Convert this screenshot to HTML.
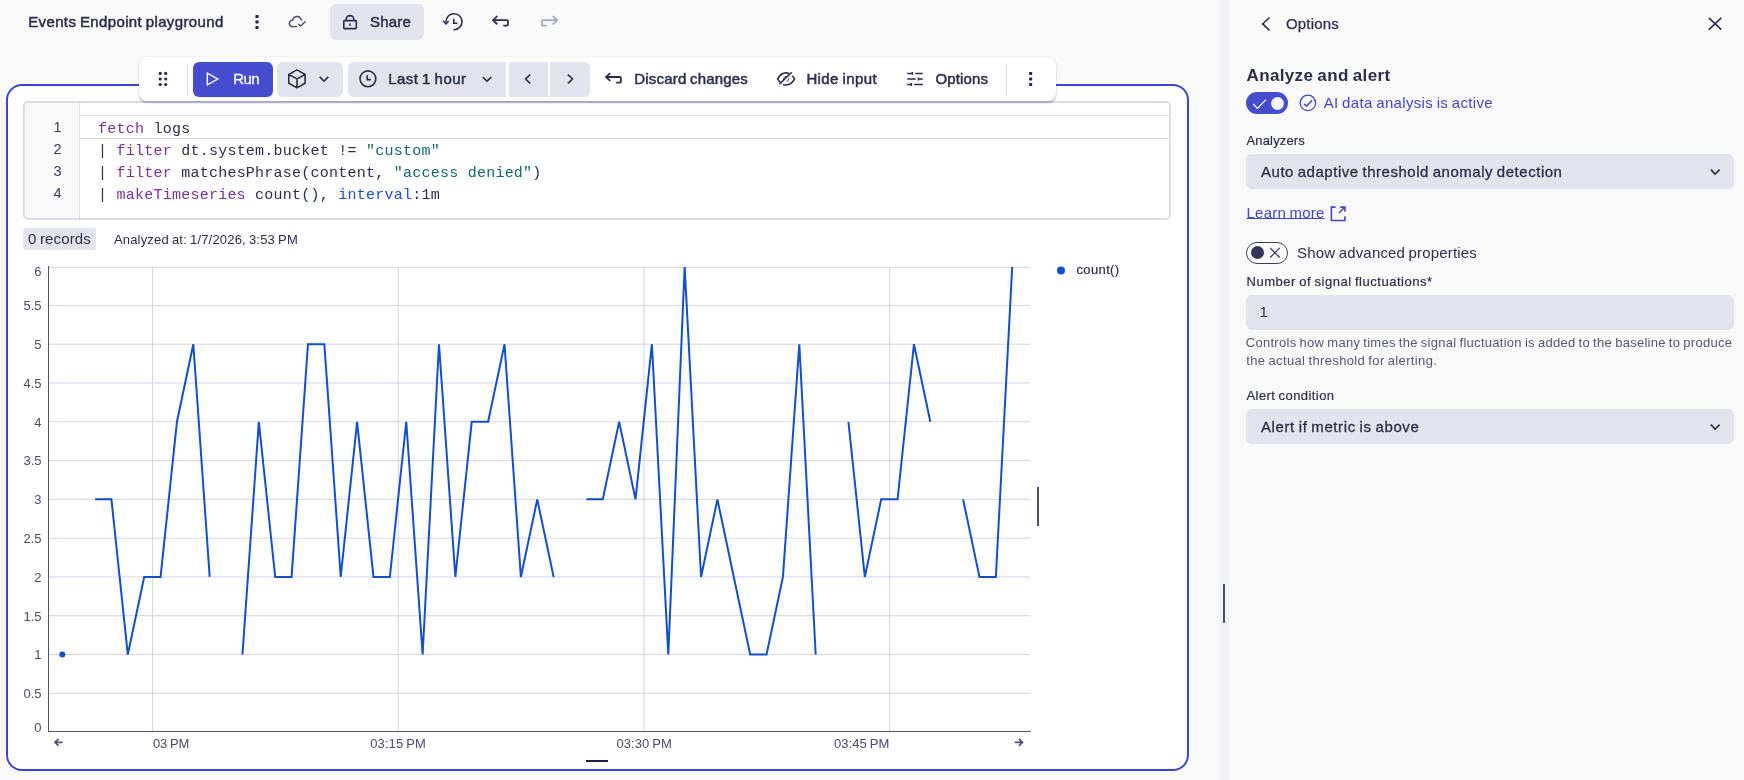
<!DOCTYPE html>
<html><head><meta charset="utf-8"><title>Events Endpoint playground</title>
<style>
html,body{margin:0;padding:0;}
body{width:1744px;height:780px;overflow:hidden;background:#f9f9fa;font-family:"Liberation Sans",sans-serif;}
#root{position:relative;width:1744px;height:780px;overflow:hidden;will-change:transform;}
.abs{position:absolute;}
.t{position:absolute;white-space:nowrap;line-height:1.5;word-spacing:-0.06em;font-family:"Liberation Sans",sans-serif;}
#splitter{left:1220px;top:0;width:9px;height:780px;background:#f3f3f7;}
#cell{left:6px;top:84px;width:1179px;height:683px;border:2px solid #3c44d2;border-radius:16px;background:#fff;}
#editor{left:23px;top:101px;width:1147.5px;height:118.5px;border:2px solid #dbdce7;border-radius:5px;background:#fff;box-sizing:border-box;overflow:hidden;}
#gutter{position:absolute;left:0;top:0;width:54px;height:117px;background:#f9f9fa;border-right:1px solid #dbdce7;}
#active{position:absolute;left:55px;top:12px;right:0;height:21.5px;border-top:1px solid #dbdce7;border-bottom:1px solid #dbdce7;}
.code{position:absolute;left:98px;height:22px;line-height:22px;font-family:"Liberation Mono",monospace;font-size:15px;letter-spacing:0.24px;white-space:pre;}
.ln{position:absolute;left:30.5px;width:31px;text-align:right;height:22px;line-height:22px;font-family:"Liberation Sans",sans-serif;font-size:14.5px;color:#3a3c5a;}
#chip{left:23px;top:228px;width:73px;height:21.5px;border-radius:3px;background:#e3e4ee;}
#toolbar{left:139px;top:56.5px;width:917px;height:44.5px;border-radius:8px;background:#fff;box-shadow:0 1.5px 2px rgba(40,42,80,0.30),0 0 2px rgba(40,42,80,0.06);}
.btn{position:absolute;background:#e3e4ee;border-radius:6px;}
.ico{position:absolute;overflow:visible;}

</style></head>
<body>
<div id="root">
<div class="abs" id="splitter"></div>
<div class="abs" id="cell"></div>
<div class="abs" id="editor"><div id="gutter"></div><div id="active"></div></div>
<div class="code" style="top:118.8px"><span style="color:#7b2f9c">fetch</span><span style="color:#2c2e4c"> logs</span></div><div class="code" style="top:140.8px"><span style="color:#2c2e4c">| </span><span style="color:#7b2f9c">filter</span><span style="color:#2c2e4c"> dt.system.bucket != </span><span style="color:#15686b">&quot;custom&quot;</span></div><div class="code" style="top:162.8px"><span style="color:#2c2e4c">| </span><span style="color:#7b2f9c">filter</span><span style="color:#2c2e4c"> matchesPhrase(content, </span><span style="color:#15686b">&quot;access denied&quot;</span><span style="color:#2c2e4c">)</span></div><div class="code" style="top:184.8px"><span style="color:#2c2e4c">| </span><span style="color:#7b2f9c">makeTimeseries</span><span style="color:#2c2e4c"> count(), </span><span style="color:#1c4fc4">interval</span><span style="color:#2c2e4c">:1m</span></div><div class="ln" style="top:115.7px">1</div><div class="ln" style="top:137.7px">2</div><div class="ln" style="top:159.7px">3</div><div class="ln" style="top:181.7px">4</div>
<div class="abs" id="chip"></div>
<svg class="abs" style="left:0;top:0" width="1220" height="780" viewBox="0 0 1220 780"><defs><clipPath id="pc"><rect x="48" y="266.9" width="990" height="470"/></clipPath></defs><line x1="49" x2="1030" y1="693.31" y2="693.31" stroke="#d3d5e3" stroke-width="1"/><line x1="49" x2="1030" y1="654.52" y2="654.52" stroke="#d3d5e3" stroke-width="1"/><line x1="49" x2="1030" y1="615.73" y2="615.73" stroke="#d3d5e3" stroke-width="1"/><line x1="49" x2="1030" y1="576.94" y2="576.94" stroke="#d3d5e3" stroke-width="1"/><line x1="49" x2="1030" y1="538.15" y2="538.15" stroke="#d3d5e3" stroke-width="1"/><line x1="49" x2="1030" y1="499.36" y2="499.36" stroke="#d3d5e3" stroke-width="1"/><line x1="49" x2="1030" y1="460.57" y2="460.57" stroke="#d3d5e3" stroke-width="1"/><line x1="49" x2="1030" y1="421.78" y2="421.78" stroke="#d3d5e3" stroke-width="1"/><line x1="49" x2="1030" y1="382.99" y2="382.99" stroke="#d3d5e3" stroke-width="1"/><line x1="49" x2="1030" y1="344.20" y2="344.20" stroke="#d3d5e3" stroke-width="1"/><line x1="49" x2="1030" y1="305.41" y2="305.41" stroke="#d3d5e3" stroke-width="1"/><line x1="49" x2="1030" y1="267.40" y2="267.40" stroke="#d3d5e3" stroke-width="1"/><line x1="152.60" x2="152.60" y1="267" y2="731" stroke="#d3d5e3" stroke-width="1"/><line x1="398.30" x2="398.30" y1="267" y2="731" stroke="#d3d5e3" stroke-width="1"/><line x1="644.00" x2="644.00" y1="267" y2="731" stroke="#d3d5e3" stroke-width="1"/><line x1="889.60" x2="889.60" y1="267" y2="731" stroke="#d3d5e3" stroke-width="1"/><line x1="48.5" x2="48.5" y1="266" y2="732" stroke="#51536f" stroke-width="1"/><line x1="48" x2="1030.8" y1="731.5" y2="731.5" stroke="#51536f" stroke-width="1"/><circle cx="62.30" cy="654.52" r="3" fill="#134fc9"/><polyline clip-path="url(#pc)" fill="none" stroke="#134fc9" stroke-width="2" stroke-linejoin="miter" points="95.06,499.36 111.43,499.36 127.81,654.52 144.19,576.94 160.57,576.94 176.95,421.78 193.32,344.20 209.70,576.94"/><polyline clip-path="url(#pc)" fill="none" stroke="#134fc9" stroke-width="2" stroke-linejoin="miter" points="242.46,654.52 258.84,421.78 275.21,576.94 291.59,576.94 307.97,344.20 324.35,344.20 340.73,576.94 357.10,421.78 373.48,576.94 389.86,576.94 406.24,421.78 422.62,654.52 438.99,344.20 455.37,576.94 471.75,421.78 488.13,421.78 504.51,344.20 520.88,576.94 537.26,499.36 553.64,576.94"/><polyline clip-path="url(#pc)" fill="none" stroke="#134fc9" stroke-width="2" stroke-linejoin="miter" points="586.40,499.36 602.77,499.36 619.15,421.78 635.53,499.36 651.91,344.20 668.29,654.52 684.66,266.62 701.04,576.94 717.42,499.36 733.80,576.94 750.18,654.52 766.55,654.52 782.93,576.94 799.31,344.20 815.69,654.52"/><polyline clip-path="url(#pc)" fill="none" stroke="#134fc9" stroke-width="2" stroke-linejoin="miter" points="848.44,421.78 864.82,576.94 881.20,499.36 897.58,499.36 913.96,344.20 930.33,421.78"/><polyline clip-path="url(#pc)" fill="none" stroke="#134fc9" stroke-width="2" stroke-linejoin="miter" points="963.09,499.36 979.47,576.94 995.85,576.94 1012.22,266.62"/><circle cx="1061" cy="270.5" r="4" fill="#134fc9"/><rect x="1037" y="487" width="2" height="39" fill="#4a4c70"/><rect x="586" y="760" width="22" height="2" fill="#1f2044"/><path d="M62.5 742.3H55.2M58.6 738.8L55 742.3L58.6 745.8" fill="none" stroke="#51536f" stroke-width="1.7"/><path d="M1014.8 742.3H1022.3M1018.9 738.8L1022.5 742.3L1018.9 745.8" fill="none" stroke="#51536f" stroke-width="1.7"/></svg>
<div class="abs" id="toolbar"></div>
<div class="btn" style="left:330px;top:4px;width:94px;height:36px;"></div>
<div class="btn" style="left:193px;top:62px;width:80px;height:35px;background:#464cd0;"></div>
<div class="btn" style="left:277px;top:62px;width:66px;height:35px;"></div>
<div class="btn" style="left:348.2px;top:62px;width:157.7px;height:35px;border-radius:6px 0 0 6px;"></div>
<div class="btn" style="left:509px;top:62px;width:38.9px;height:35px;border-radius:0;"></div>
<div class="btn" style="left:550px;top:62px;width:40px;height:35px;border-radius:0 6px 6px 0;"></div>
<div class="abs" style="left:187px;top:64px;width:1px;height:30.5px;background:#d5d7e4;"></div>
<div class="abs" style="left:1005.5px;top:64px;width:1px;height:30.5px;background:#d5d7e4;"></div>
<div class="btn" style="left:1246px;top:154px;width:488px;height:35px;"></div>
<div class="btn" style="left:1246px;top:295px;width:488px;height:35px;"></div>
<div class="btn" style="left:1246px;top:409px;width:488px;height:35px;"></div>
<div class="abs" style="left:1246px;top:92px;width:42px;height:22px;border-radius:11px;background:#464cd0;"></div>
<div class="abs" style="left:1270.6px;top:96.7px;width:13.4px;height:13.4px;border-radius:50%;background:#f4f4f9;"></div>
<div class="abs" style="left:1246px;top:242px;width:42px;height:21.5px;border-radius:11px;background:#fdfdfe;border:1px solid #3b3d5c;box-sizing:border-box;"></div>
<div class="abs" style="left:1251.1px;top:246.1px;width:13px;height:13px;border-radius:50%;background:#35365a;"></div>
<div class="abs" style="left:1223px;top:584px;width:2px;height:39px;background:#4a4c70;"></div>
<svg class="abs" style="left:0;top:0" width="1744" height="780" viewBox="0 0 1744 780" fill="none" stroke="#2c2e4c" stroke-width="1.6">
<!-- header kebab -->
<g fill="#23244a" stroke="none"><rect x="255.4" y="14.9" width="3.2" height="3.2" rx="0.8"/><rect x="255.4" y="20.4" width="3.2" height="3.2" rx="0.8"/><rect x="255.4" y="25.9" width="3.2" height="3.2" rx="0.8"/></g>
<!-- cloud check -->
<path d="M297 26.6H291.6A3.35 3.35 0 0 1 292.7 20.1A4.3 4.3 0 0 1 301 19.4L302.3 20.2" stroke="#484a6c" stroke-width="1.4"/>
<path d="M298.4 23.9L300.6 26.1L305.6 21.2" stroke="#484a6c" stroke-width="1.4"/>
<!-- lock -->
<rect x="343.8" y="20.6" width="12.5" height="8" rx="0.6"/>
<path d="M346.2 20.6V19.2A3.8 3.6 0 0 1 353.8 19.2V20.6"/>
<path d="M350 23.4V25.8" stroke-width="1.6"/>
<!-- history -->
<path d="M446 21.7A8 8 0 1 1 453.4 29.7"/>
<path d="M443.1 20.8L446 23.8L448.6 21.1"/>
<path d="M453.8 18.8V23.3H457.4" stroke-width="1.6"/>
<!-- undo / redo -->
<path d="M497.3 16.1L493 20.2L497.3 24.3M493.2 20.2H507A0.9 0.9 0 0 1 507.9 21.1V24.8A0.9 0.9 0 0 1 507 25.7H503.3" stroke-width="1.8"/>
<path d="M552.8 16.1L557.1 20.2L552.8 24.3M556.9 20.2H542.9A0.9 0.9 0 0 0 542 21.1V24.8A0.9 0.9 0 0 0 542.9 25.7H546.8" stroke="#a5a6c0" stroke-width="1.8"/>
<!-- drag handle -->
<g fill="#23244a" stroke="none"><circle cx="160.2" cy="73.4" r="1.6"/><circle cx="165.7" cy="73.4" r="1.6"/><circle cx="160.2" cy="79" r="1.6"/><circle cx="165.7" cy="79" r="1.6"/><circle cx="160.2" cy="84.5" r="1.6"/><circle cx="165.7" cy="84.5" r="1.6"/></g>
<!-- play -->
<path d="M207.3 73.2V84.9L217.7 79Z" stroke="#fff" stroke-width="1.4" stroke-linejoin="miter"/>
<!-- cube -->
<path d="M297 69.9L305.1 74.5V83.3L297 87.9L288.8 83.3V74.5ZM288.8 74.5L297 78.9L305.1 74.5M297 78.9V87.9" stroke-linejoin="round"/>
<path d="M319.7 76.9L324 81.1L328.3 76.9" stroke-width="1.6"/>
<!-- clock -->
<circle cx="367.9" cy="78.8" r="7.9"/>
<path d="M367.2 75.2V79.6H370.8" stroke-width="1.6"/>
<path d="M482.9 77.1L487 81.2L491.3 77.1" stroke-width="1.6"/>
<path d="M530.2 74.6L525.6 79L530.2 83.3" stroke-width="1.6"/>
<path d="M567.9 74.6L572.5 79L567.9 83.3" stroke-width="1.6"/>
<!-- discard -->
<path d="M610.2 73.2L606 77L610.2 80.9M606.2 77H620A0.9 0.9 0 0 1 620.9 77.9V81.7A0.9 0.9 0 0 1 620 82.6H616.2" stroke-width="1.8"/>
<!-- eye slash -->
<path d="M780.4 82.4C779.2 81.4 778.3 80.2 777.6 78.9C779.6 75.2 782.6 72.9 786 72.9C787.2 72.9 788.3 73.2 789.4 73.7M791.9 75.8C793 76.7 793.9 77.7 794.6 78.9C792.6 82.7 789.6 85 786 85C784.9 85 783.9 84.8 782.9 84.4"/>
<path d="M779.4 84.3L791.7 72.2" stroke-width="1.6"/><path d="M783.6 80A2.8 2.8 0 0 1 787 76.5M788.6 78.6A2.8 2.8 0 0 1 786.6 81.5" stroke-width="1"/>
<!-- sliders -->
<path d="M907.2 73.5H912.3M912.4 72.1V74.9M915.2 73.5H922.8M907.2 79H915.8M918.4 77.4V80.6M918.5 79H922.8M907.2 84.5H911.3M911.4 83.1V85.9M914.2 84.5H922.8" stroke-width="1.5"/>
<!-- toolbar kebab -->
<g fill="#23244a" stroke="none"><rect x="1029.1" y="72" width="3.1" height="3.1" rx="0.8"/><rect x="1029.1" y="77.5" width="3.1" height="3.1" rx="0.8"/><rect x="1029.1" y="83" width="3.1" height="3.1" rx="0.8"/></g>
<!-- panel -->
<path d="M1269.5 17.5L1262.7 23.9L1269.5 30.4"/>
<path d="M1708.8 17.9L1721.3 29.6M1721.3 17.9L1708.8 29.6" stroke-width="1.6"/>
<path d="M1253.2 104L1257.5 108.4L1266.1 99.6" stroke="#fff" stroke-width="1.3"/>
<circle cx="1307.9" cy="102.9" r="7.7" stroke="#3f47cf" stroke-width="1.3"/>
<path d="M1304.1 103.9L1306.6 106.2L1312 100.3" stroke="#3f47cf" stroke-width="1.5"/>
<path d="M1710.9 169.6L1715.1 174L1719.6 169.6" stroke-width="1.7"/>
<path d="M1710.9 424.6L1715.1 429L1719.6 424.6" stroke-width="1.7"/>
<path d="M1335.6 207.1H1331.4V220.5H1344.9V216.3M1339 213L1344.7 207.3M1340.2 207.1H1344.9V211.8" stroke="#3f47cf" stroke-width="1.6"/>
<path d="M1270.1 247.9L1279.7 257.5M1279.7 247.9L1270.1 257.5" stroke="#35365a" stroke-width="1.2"/>
</svg>

<span class="t" id="title" style="top:10.75px;font-size:15px;color:#2c2e4c;left:28.20px;-webkit-text-stroke:0.5px #2c2e4c;letter-spacing:0.371px;">Events Endpoint playground</span>
<span class="t" id="share" style="top:10.75px;font-size:15px;color:#2c2e4c;left:370.00px;-webkit-text-stroke:0.5px #2c2e4c;letter-spacing:0.194px;">Share</span>
<span class="t" id="run" style="top:67.75px;font-size:15px;color:#fff;left:233.20px;-webkit-text-stroke:0.3px #fff;letter-spacing:-0.577px;">Run</span>
<span class="t" id="last" style="top:67.75px;font-size:15px;color:#2c2e4c;left:388.20px;-webkit-text-stroke:0.5px #2c2e4c;letter-spacing:0.458px;">Last 1 hour</span>
<span class="t" id="discard" style="top:67.75px;font-size:15px;color:#2c2e4c;left:634.30px;-webkit-text-stroke:0.5px #2c2e4c;letter-spacing:0.191px;">Discard changes</span>
<span class="t" id="hide" style="top:67.75px;font-size:15px;color:#2c2e4c;left:806.40px;-webkit-text-stroke:0.5px #2c2e4c;letter-spacing:0.394px;">Hide input</span>
<span class="t" id="opts" style="top:67.75px;font-size:15px;color:#2c2e4c;left:935.50px;-webkit-text-stroke:0.5px #2c2e4c;letter-spacing:0.114px;">Options</span>
<span class="t" id="rec" style="top:227.75px;font-size:15px;color:#2c2e4c;left:28.00px;letter-spacing:0.151px;">0 records</span>
<span class="t" id="ana" style="top:229.75px;font-size:13px;color:#2c2e4c;left:113.90px;letter-spacing:0.191px;">Analyzed at: 1/7/2026, 3:53 PM</span>
<span class="t" id="leg" style="top:260.25px;font-size:13px;color:#2c2e4c;left:1076.50px;-webkit-text-stroke:0.2px #2c2e4c;letter-spacing:0.362px;">count()</span>
<span class="t" id="popt" style="top:12.75px;font-size:15px;color:#2c2e4c;left:1286.00px;-webkit-text-stroke:0.25px #2c2e4c;letter-spacing:0.157px;">Options</span>
<span class="t" id="h" style="top:63.35px;font-size:17px;color:#2c2e4c;left:1246.50px;font-weight:700;letter-spacing:0.365px;">Analyze and alert</span>
<span class="t" id="ai" style="top:91.75px;font-size:15px;color:#3f47cf;left:1323.70px;letter-spacing:0.332px;">AI data analysis is active</span>
<span class="t" id="l1" style="top:130.85px;font-size:13px;color:#2c2e4c;left:1246.50px;-webkit-text-stroke:0.2px #2c2e4c;letter-spacing:0.158px;">Analyzers</span>
<span class="t" id="s1" style="top:160.95px;font-size:15px;color:#2c2e4c;left:1261.00px;-webkit-text-stroke:0.3px #2c2e4c;letter-spacing:0.526px;">Auto adaptive threshold anomaly detection</span>
<span class="t" id="lm" style="top:201.75px;font-size:15px;color:#3f47cf;left:1246.50px;letter-spacing:0.229px;text-decoration:underline;text-underline-offset:0.3px;text-decoration-thickness:1px;">Learn more</span>
<span class="t" id="adv" style="top:241.75px;font-size:15px;color:#2c2e4c;left:1297.00px;letter-spacing:0.174px;">Show advanced properties</span>
<span class="t" id="l2" style="top:271.95px;font-size:13px;color:#2c2e4c;left:1246.50px;-webkit-text-stroke:0.2px #2c2e4c;letter-spacing:0.524px;">Number of signal fluctuations*</span>
<span class="t" id="one" style="top:300.75px;font-size:15px;color:#2c2e4c;left:1259.50px;letter-spacing:-1.344px;">1</span>
<span class="t" id="hint1" style="top:332.85px;font-size:13px;color:#555873;left:1245.80px;letter-spacing:0.275px;">Controls how many times the signal fluctuation is added to the baseline to produce</span>
<span class="t" id="hint2" style="top:351.05px;font-size:13px;color:#555873;left:1246.20px;letter-spacing:0.353px;">the actual threshold for alerting.</span>
<span class="t" id="l3" style="top:385.75px;font-size:13px;color:#2c2e4c;left:1246.50px;-webkit-text-stroke:0.2px #2c2e4c;letter-spacing:0.426px;">Alert condition</span>
<span class="t" id="s2" style="top:415.85px;font-size:15px;color:#2c2e4c;left:1261.00px;-webkit-text-stroke:0.3px #2c2e4c;letter-spacing:0.602px;">Alert if metric is above</span>
<span class="t" id="y0" style="top:717.55px;font-size:13px;color:#4a4c68;right:1702.50px;">0</span>
<span class="t" id="y1" style="top:684.16px;font-size:13px;color:#4a4c68;right:1702.50px;">0.5</span>
<span class="t" id="y2" style="top:645.37px;font-size:13px;color:#4a4c68;right:1702.50px;">1</span>
<span class="t" id="y3" style="top:606.58px;font-size:13px;color:#4a4c68;right:1702.50px;">1.5</span>
<span class="t" id="y4" style="top:567.79px;font-size:13px;color:#4a4c68;right:1702.50px;">2</span>
<span class="t" id="y5" style="top:529.00px;font-size:13px;color:#4a4c68;right:1702.50px;">2.5</span>
<span class="t" id="y6" style="top:490.21px;font-size:13px;color:#4a4c68;right:1702.50px;">3</span>
<span class="t" id="y7" style="top:451.42px;font-size:13px;color:#4a4c68;right:1702.50px;">3.5</span>
<span class="t" id="y8" style="top:412.63px;font-size:13px;color:#4a4c68;right:1702.50px;">4</span>
<span class="t" id="y9" style="top:373.84px;font-size:13px;color:#4a4c68;right:1702.50px;">4.5</span>
<span class="t" id="y10" style="top:335.05px;font-size:13px;color:#4a4c68;right:1702.50px;">5</span>
<span class="t" id="y11" style="top:296.26px;font-size:13px;color:#4a4c68;right:1702.50px;">5.5</span>
<span class="t" id="y12" style="top:261.85px;font-size:13px;color:#4a4c68;right:1702.50px;">6</span>
<span class="t" id="x0" style="top:733.75px;font-size:13px;color:#4a4c68;left:153.00px;letter-spacing:-0.119px;">03 PM</span>
<span class="t" id="x1" style="top:733.75px;font-size:13px;color:#4a4c68;left:370.30px;letter-spacing:0.078px;">03:15 PM</span>
<span class="t" id="x2" style="top:733.75px;font-size:13px;color:#4a4c68;left:616.50px;letter-spacing:0.078px;">03:30 PM</span>
<span class="t" id="x3" style="top:733.75px;font-size:13px;color:#4a4c68;left:834.00px;letter-spacing:0.053px;">03:45 PM</span>
</div>
</body></html>
